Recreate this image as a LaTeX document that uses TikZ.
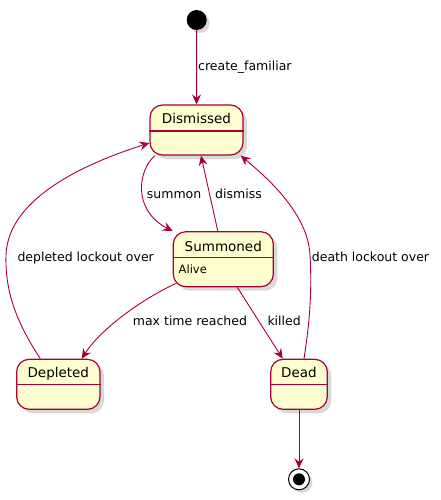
\documentclass[tikz,border=0pt]{standalone}
\usepackage{fontspec}
\setmainfont{DejaVu Sans}
\usetikzlibrary{arrows.meta,shadows}
\definecolor{pumlred}{HTML}{A80036}
\definecolor{pumlfill}{HTML}{FEFECE}
\tikzset{
  stbox/.style={draw=pumlred, fill=pumlfill, line width=1.2pt, rounded corners=12.5pt,
    inner sep=0pt, drop shadow={shadow xshift=4pt, shadow yshift=-4pt, opacity=0.3}},
  stname/.style={anchor=base, inner sep=0pt, font=\fontsize{13.5}{16}\selectfont},
  stdesc/.style={anchor=base west, inner sep=0pt, font=\fontsize{11.5}{14}\selectfont},
  sepline/.style={draw=pumlred, line width=1.2pt},
  conn/.style={draw=pumlred, line width=0.9pt, -{Stealth[length=10pt,width=9pt,inset=3.5pt]}},
  lbl/.style={anchor=base west, inner sep=0pt, font=\fontsize{12.5}{15}\selectfont},
}
\begin{document}
\begin{tikzpicture}[x=1pt,y=-1pt]
\useasboundingbox (0,0) rectangle (440,500);
% states
\node[circle, fill=black, minimum size=20pt, inner sep=0pt,
  drop shadow={shadow xshift=3pt, shadow yshift=-3pt, opacity=0.3}] (start) at (196.7,20) {};
\node[stbox, minimum width=93pt, minimum height=50pt] (dis) at (196.5,130) {};
\node[stname] (disname) at (196.5,123) {Dismissed};
\draw[sepline] ([yshift=-26.5pt]dis.north west) -- ([yshift=-26.5pt]dis.north east);
\node[stbox, minimum width=100pt, minimum height=55pt] (sum) at (223.3,259.2) {};
\node[stname] (sumname) at (223.3,251) {Summoned};
\draw[sepline] ([yshift=-26.5pt]sum.north west) -- ([yshift=-26.5pt]sum.north east);
\node[stdesc] (alive) at (178.5,273) {Alive};
\node[stbox, minimum width=83.3pt, minimum height=50pt] (dep) at (58.3,384.3) {};
\node[stname] (depname) at (58.3,377) {Depleted};
\draw[sepline] ([yshift=-26pt]dep.north west) -- ([yshift=-26pt]dep.north east);
\node[stbox, minimum width=56.6pt, minimum height=50pt] (dead) at (299,384.3) {};
\node[stname] (deadname) at (299,377) {Dead};
\draw[sepline] ([yshift=-26pt]dead.north west) -- ([yshift=-26pt]dead.north east);
\node[circle, draw=black, line width=1pt, fill=white, minimum size=21pt, inner sep=0pt,
  drop shadow={shadow xshift=3pt, shadow yshift=-3pt, opacity=0.3}] (end) at (299,479.3) {};
\node[circle, fill=black, minimum size=12pt, inner sep=0pt] (endin) at (end) {};
% connectors
\draw[conn] (start) -- (dis);
\draw[conn] ([xshift=-41.5pt]dis.south) .. controls (138,170) and (132,210) .. (sum.north west);
\draw[conn] ([xshift=-5.5pt]sum.north) -- ([xshift=4.5pt]dis.south);
\draw[conn] ([xshift=5pt]dead.north) .. controls (310,320) and (312,290) .. (310,255)
  .. controls (308,215) and (270,180) .. ([xshift=-3pt]dis.south east);
\draw[conn] ([xshift=-18pt]dep.north) .. controls (15,320) and (5,290) .. (6,255)
  .. controls (8,200) and (80,165) .. ([yshift=-13pt]dis.west);
\draw[conn] ([shift={(3.5pt,4pt)}]sum.south west) .. controls (140,300) and (100,330) .. ([xshift=23.4pt]dep.north);
\draw[conn] ([xshift=14pt]sum.south) -- ([xshift=-16.3pt]dead.north);
\draw[conn] (dead) -- (end);
% labels
\node[lbl] (l1) at (198,71) {create\_familiar};
\node[lbl] (l2) at (146.7,198) {summon};
\node[lbl] (l3) at (215,198) {dismiss};
\node[lbl] (l4) at (17.3,261.7) {depleted lockout over};
\node[lbl] (l5) at (311.7,261.7) {death lockout over};
\node[lbl] (l6) at (132.7,325) {max time reached};
\node[lbl] (l7) at (267.3,325) {killed};
\end{tikzpicture}
\end{document}
